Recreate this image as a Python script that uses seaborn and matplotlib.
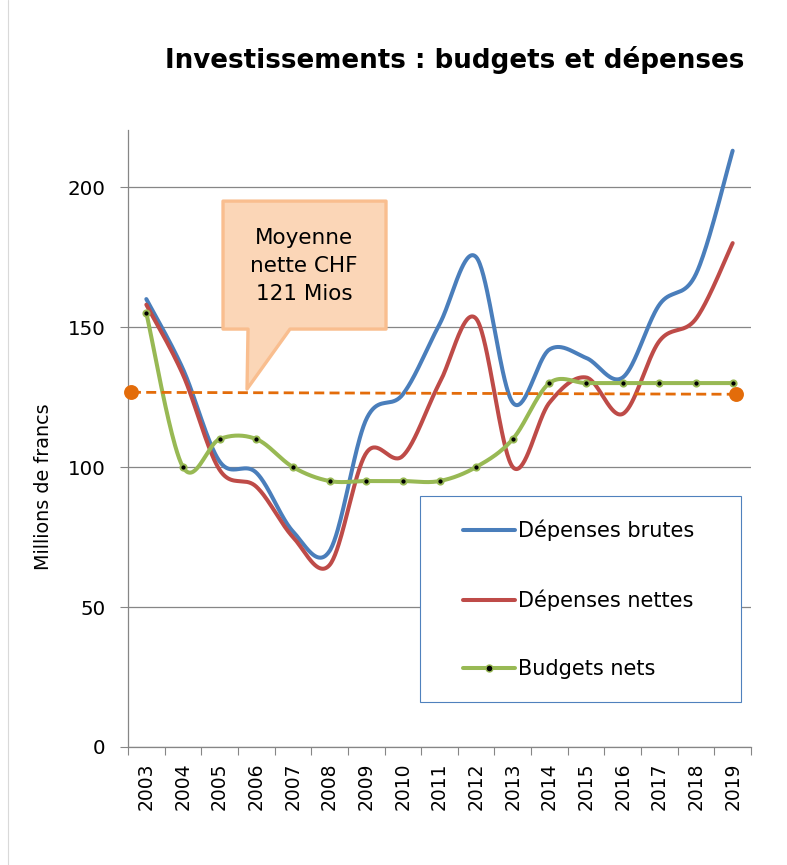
import numpy as np
import pandas as pd
import matplotlib
matplotlib.use("Agg")
import matplotlib.pyplot as plt
import seaborn as sns
from matplotlib.patches import Polygon, Rectangle
from matplotlib.lines import Line2D

# ---------------- data ----------------
years = [str(y) for y in range(2003, 2020)]
depenses_brutes = [160, 135, 102, 98, 77, 70, 117, 126, 151, 175, 123, 142, 139, 132, 158, 169, 213]
depenses_nettes = [158, 133, 99, 93, 75, 65, 105, 104, 130, 153, 100, 123, 132, 119, 145, 153, 180]
budgets_nets = [155, 100, 110, 110, 100, 95, 95, 95, 95, 100, 110, 130, 130, 130, 130, 130, 130]
moyenne_line = [126.7, 126.0]
moyenne_label = "Moyenne\nnette CHF\n121 Mios"
series_names = ["Dépenses brutes", "Dépenses nettes", "Budgets nets"]
title = "Investissements : budgets et dépenses"
ylabel = "Millions de francs"
yticks = [0, 50, 100, 150, 200]


def excel_smooth(y, n=40):
    """Excel-like smoothed line (cubic Bezier, tension 1/6)."""
    x = np.arange(len(y), dtype=float)
    y = np.asarray(y, dtype=float)
    P = np.column_stack([x, y])
    out = []
    for i in range(len(P) - 1):
        p0 = P[i - 1] if i > 0 else P[i]
        p1 = P[i]
        p2 = P[i + 1]
        p3 = P[i + 2] if i + 2 < len(P) else P[i + 1]
        c1 = p1 + (p2 - p0) / 6.0
        c2 = p2 - (p3 - p1) / 6.0
        t = np.linspace(0, 1, n, endpoint=(i == len(P) - 2))[:, None]
        seg = ((1 - t) ** 3) * p1 + 3 * ((1 - t) ** 2) * t * c1 + 3 * (1 - t) * t ** 2 * c2 + t ** 3 * p2
        out.append(seg)
    out = np.vstack(out)
    return out[:, 0], out[:, 1]


sns.set_theme(style="white")
plt.rcParams["font.family"] = ["DejaVu Sans"]
plt.rcParams["text.color"] = "black"
plt.rcParams["axes.labelcolor"] = "black"

W, H = 787, 865
fig = plt.figure(figsize=(W / 100, H / 100), dpi=100)
AX_L, AX_R, AX_T, AX_B = 128, 751, 130, 747
ax = fig.add_axes([AX_L / W, 1 - AX_B / H, (AX_R - AX_L) / W, (AX_B - AX_T) / H])

blue = "#4A7EBB"
red = "#BE4B48"
green = "#98B954"
orange = "#E36C0A"
grid_c = "#868686"

colors = [blue, red, green]
for vals, name, col in zip([depenses_brutes, depenses_nettes, budgets_nets], series_names, colors):
    sx, sy = excel_smooth(vals)
    df = pd.DataFrame({"x": sx, "y": sy})
    sns.lineplot(data=df, x="x", y="y", ax=ax, color=col, lw=2.9, sort=False,
                 estimator=None, solid_capstyle="round", zorder=3)

dfb = pd.DataFrame({"x": np.arange(len(years)), "y": budgets_nets})
sns.scatterplot(data=dfb, x="x", y="y", ax=ax, color="black", s=20,
                edgecolor=green, linewidth=1.4, zorder=4)

# average line
dfm = pd.DataFrame({"x": [-0.42, 16.09], "y": moyenne_line})
sns.lineplot(data=dfm, x="x", y="y", ax=ax, color=orange, lw=2.0, sort=False,
             estimator=None, zorder=5)
ax.lines[-1].set_dashes([3.6, 1.9])
sns.scatterplot(data=dfm, x="x", y="y", ax=ax, color=orange, s=115,
                edgecolor=orange, linewidth=0, zorder=6)
for c in ax.collections:
    c.set_clip_on(False)

# axes
ax.set_xlim(-0.5, 16.5)
ax.set_ylim(0, 220.4)
ax.set_yticks(yticks)
ax.set_yticklabels([str(v) for v in yticks], fontsize=14.3)
ax.set_xticks(np.arange(len(years)))
ax.set_xticklabels(years, rotation=90, fontsize=13.5)
ax.set_xticks(np.arange(len(years) + 1) - 0.5, minor=True)
ax.tick_params(axis="x", which="major", length=0, pad=11, labelcolor="black")
ax.tick_params(axis="x", which="minor", length=6, color=grid_c, width=0.8, bottom=True)
ax.tick_params(axis="y", length=6, color=grid_c, width=0.8, left=True, pad=10, labelcolor="black")
ax.set_xlabel("")
ax.set_ylabel(ylabel, fontsize=13.8)
ax.yaxis.label.set_va("center")
ax.yaxis.set_label_coords((44 - AX_L) / (AX_R - AX_L), (AX_B - 487) / (AX_B - AX_T))
for s in ["top", "right"]:
    ax.spines[s].set_visible(False)
for s in ["left", "bottom"]:
    ax.spines[s].set_color(grid_c)
    ax.spines[s].set_linewidth(0.9)
ax.yaxis.grid(True, color=grid_c, lw=0.9)
ax.set_axisbelow(True)


# callout
def px(xp, yp):
    return ((xp - 146.3) / 36.65, (747 - yp) / 2.8)


shape = [px(223, 201), px(386, 201), px(386, 329), px(290, 329), px(247, 389),
         px(248, 329), px(223, 329)]
poly = Polygon(shape, closed=True, facecolor="#FBD6B7", edgecolor="#F9BE8F",
               lw=2.4, joinstyle="round", zorder=7)
ax.add_patch(poly)
tx, ty = px(304, 266)
ax.text(tx, ty, moyenne_label, ha="center", va="center", fontsize=15.5,
        linespacing=1.5, zorder=8, color="black")


# legend (frame drawn separately)
def axfrac(xp, yp):
    return ((xp - AX_L) / (AX_R - AX_L), (AX_B - yp) / (AX_B - AX_T))


x0, y1 = axfrac(420, 496)
x1, y0 = axfrac(741, 702)
frame = Rectangle((x0, y0), x1 - x0, y1 - y0, transform=ax.transAxes,
                  facecolor="white", edgecolor="#4F81BD", lw=0.8, zorder=8)
ax.add_patch(frame)

handles = [Line2D([], [], color=blue, lw=2.9),
           Line2D([], [], color=red, lw=2.9),
           Line2D([], [], color=green, lw=2.9, marker="o", markersize=5,
                  markerfacecolor="black", markeredgecolor=green)]
leg = ax.legend(handles, series_names, loc="upper left",
                bbox_to_anchor=axfrac(463, 520), fontsize=15,
                frameon=False, handlelength=2.5, handletextpad=0.15,
                labelspacing=2.3, borderpad=0, borderaxespad=0)
leg.set_zorder(9)
for t in leg.get_texts():
    t.set_color("black")

fig.text(455 / W, 1 - 67.5 / H, title, ha="center", va="baseline",
         fontsize=18.8, fontweight="bold", color="black")
fig.add_artist(Line2D([8 / W, 8 / W], [0, 1], color="#D9D9D9", lw=0.8))

fig.savefig("out.png", dpi=100, facecolor="white")
